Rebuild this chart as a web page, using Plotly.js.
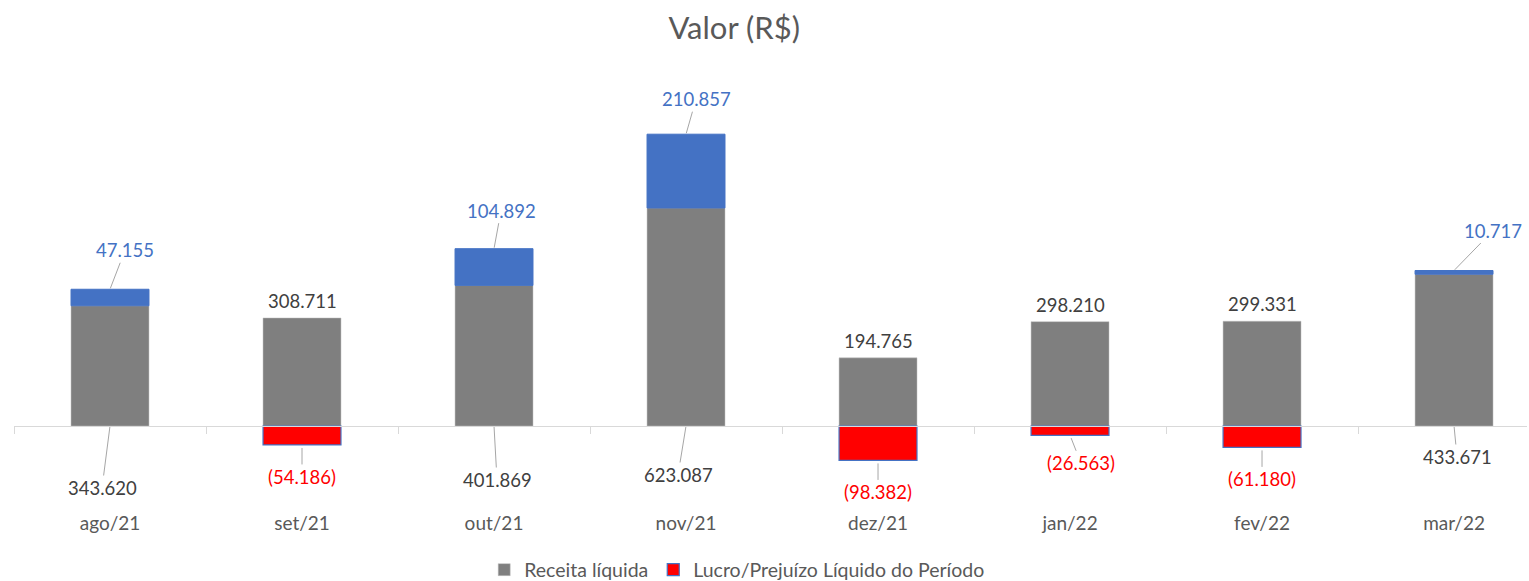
<!DOCTYPE html>
<html>
<head>
<meta charset="utf-8">
<script src="https://cdn.plot.ly/plotly-3.0.1.min.js"></script>
<style>html,body{margin:0;padding:0;background:#fff;}#chart{width:1529px;height:581px;}</style>
</head>
<body>
<div id="chart"></div>
<script>
// ---- data ----
const categories = ['ago/21','set/21','out/21','nov/21','dez/21','jan/22','fev/22','mar/22'];
const receitaLiquida = [343620, 308711, 401869, 623087, 194765, 298210, 299331, 433671];
const lucroPrejuizo = [47155, -54186, 104892, 210857, -98382, -26563, -61180, 10717];
const seriesNames = ['Receita líquida', 'Lucro/Prejuízo Líquido do Período'];

// ---- label placement (pixel offsets of label centre from arrow tip) ----
const receitaLabelOffset = [[-8,62], null, [3,54], [-8,49], null, null, null, [3,31]];
const lucroLabelOffset = [[15,-39],[0,32],[7,-38],[10,-35],[0,32],[11,28],[0,32],[39,-40]];

const FONT = 'Lato, "Open Sans", sans-serif';
const GRAY = '#7F7F7F', BLUE = '#4472C4', RED = '#FF0000';

function fmtNum(v){
  const s = Math.round(Math.abs(v)).toString().replace(/\B(?=(\d{3})+(?!\d))/g, '.');
  return v < 0 ? '(' + s + ')' : s;
}

const lucroPos = lucroPrejuizo.map(v => v > 0 ? v : null);
const lucroNeg = lucroPrejuizo.map(v => v < 0 ? v : null);

const traces = [
  {type:'bar', name: seriesNames[0], x: categories, y: receitaLiquida,
   marker:{color: GRAY, line:{color:'#BFBFBF', width:0.5}}, hoverinfo:'x+y'},
  {type:'bar', name: seriesNames[1], x: categories, y: lucroPos, showlegend:false,
   marker:{color: BLUE, line:{color: BLUE, width:1}}, hoverinfo:'x+y'},
  {type:'bar', name: seriesNames[1], x: categories, y: lucroNeg,
   marker:{color: RED, line:{color: BLUE, width:1.2}}, hoverinfo:'x+y'}
];

const annotations = [];
categories.forEach((c, i) => {
  const r = receitaLiquida[i], p = lucroPrejuizo[i];
  const ro = receitaLabelOffset[i];
  if (ro) {
    annotations.push({x:c, y:0, xref:'x', yref:'y', text: fmtNum(r), showarrow:true,
      arrowhead:0, arrowwidth:1, arrowcolor:'#A6A6A6', ax: ro[0], ay: ro[1], standoff:1,
      font:{family:FONT, size:18.5, color:'#404040'}});
  } else {
    annotations.push({x:c, y:r, xref:'x', yref:'y', text: fmtNum(r), showarrow:false,
      yanchor:'bottom', yshift:4, font:{family:FONT, size:18.5, color:'#404040'}});
  }
  const po = lucroLabelOffset[i];
  const tipY = p > 0 ? r + p : p;
  annotations.push({x:c, y:tipY, xref:'x', yref:'y', text: fmtNum(p), showarrow:true,
    arrowhead:0, arrowwidth:1, arrowcolor:'#A6A6A6', ax: po[0], ay: po[1],
    standoff: p > 0 ? 1 : 3,
    font:{family:FONT, size:18.5, color: p > 0 ? BLUE : RED}});
});

const yMin = -211500, yMax = 1046000;

const layout = {
  width:1529, height:581,
  margin:{l:14, r:2, t:60, b:81, autoexpand:false},
  paper_bgcolor:'#FFFFFF', plot_bgcolor:'#FFFFFF',
  font:{family:FONT, color:'#595959'},
  title:{text:'Valor (R$)', font:{family:FONT, size:31, color:'#595959'},
         x: 0.476, xanchor:'center', xref:'paper', y: 1 - 28/581, yanchor:'middle', yref:'container'},
  barmode:'relative',
  bargap:0.594,
  showlegend:true,
  legend:{orientation:'h', x:0.478, xanchor:'center', y:-0.159, yanchor:'middle',
          font:{family:FONT, size:19.5, color:'#595959'}, traceorder:'normal', itemwidth:30},
  xaxis:{type:'category', range:[-0.5, 7.38], anchor:'free', position:(0 - yMin)/(yMax - yMin),
         showline:true, linecolor:'#D9D9D9', linewidth:1, ticks:'outside', tickson:'boundaries',
         ticklen:7, tickcolor:'#D9D9D9', tickwidth:1, showgrid:false, zeroline:false,
         ticklabelstandoff:80, tickfont:{family:FONT, size:19, color:'#595959'}},
  yaxis:{range:[yMin, yMax], visible:false, showgrid:false, zeroline:false},
  annotations: annotations
};

Plotly.newPlot('chart', traces, layout, {displayModeBar:false, staticPlot:true});
</script>
</body>
</html>
